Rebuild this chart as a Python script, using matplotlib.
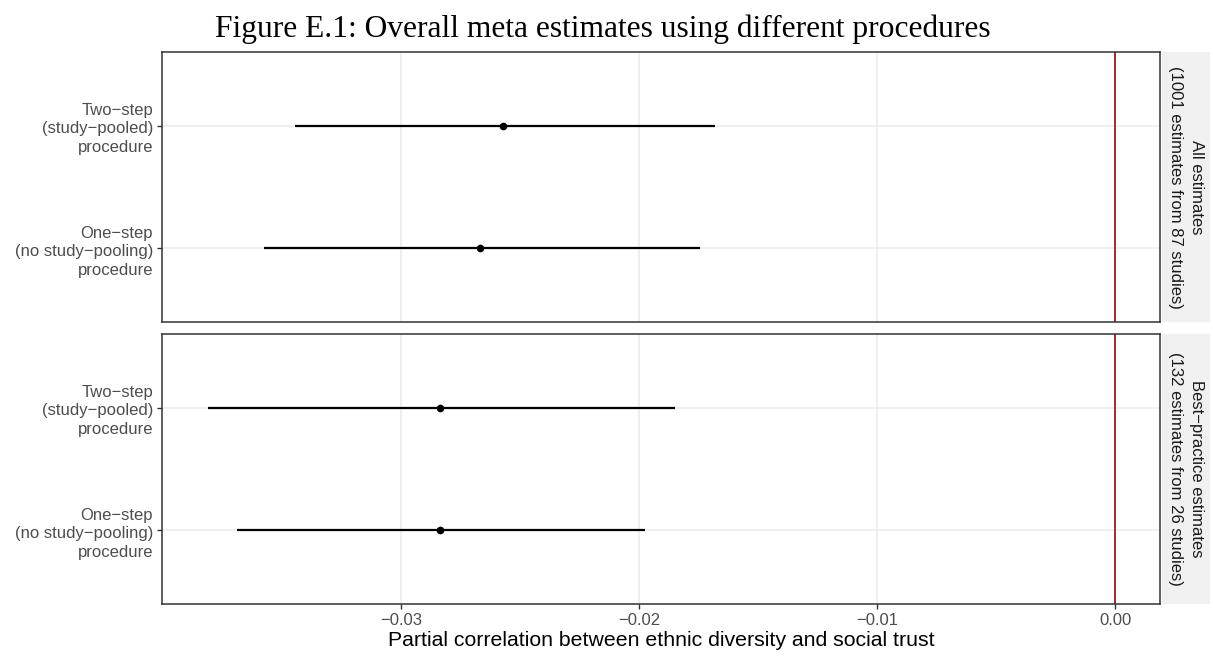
import matplotlib.pyplot as plt
import numpy as np

plt.rcParams['font.family'] = ['Liberation Sans', 'DejaVu Sans']

# Datos
procedimientos = ['One\u2212step\n(no study\u2212pooling)\nprocedure',
                  'Two\u2212step\n(study\u2212pooled)\nprocedure']
paneles = ['All estimates\n(1001 estimates from 87 studies)',
           'Best\u2212practice estimates\n(132 estimates from 26 studies)']
# orden: one-step, two-step
est_todos = [-0.02668, -0.02571]
lo_todos = [-0.03576, -0.03447]
hi_todos = [-0.01744, -0.01681]
est_mejores = [-0.02836, -0.02836]
lo_mejores = [-0.03689, -0.03811]
hi_mejores = [-0.01975, -0.01849]

xticks = [-0.03, -0.02, -0.01, 0.00]
xlabels = ['\u22120.03', '\u22120.02', '\u22120.01', '0.00']

W, H = 1213, 656
fig = plt.figure(figsize=(W / 100, H / 100), dpi=100)

def caja(x0, y0, x1, y1):
    return [x0 / W, 1 - y1 / H, (x1 - x0) / W, (y1 - y0) / H]

datos = [(est_todos, lo_todos, hi_todos), (est_mejores, lo_mejores, hi_mejores)]
filas = [(52, 322), (334, 604)]
gris = '#4D4D4D'

for i, ((est, lo, hi), (y0, y1)) in enumerate(zip(datos, filas)):
    ax = fig.add_axes(caja(162, y0, 1160, y1))
    pos = np.arange(1, len(est) + 1)
    ax.hlines(pos, lo, hi, color='black', linewidth=1.6, zorder=3)
    ax.plot(est, pos, 'o', color='black', markersize=4.5, zorder=4)
    ax.axvline(0, color='#9B1B1E', linewidth=1.3, zorder=2)
    ax.set_xlim(-0.04004, 0.00189)
    ax.set_ylim(0.4, 2.6)
    ax.set_yticks(pos)
    ax.set_yticklabels(procedimientos, fontsize=12, color=gris, ha='right',
                       multialignment='right', linespacing=1.3)
    ax.set_xticks(xticks)
    ax.grid(True, color='#EBEBEB', linewidth=1.1, zorder=0)
    ax.set_axisbelow(True)
    for s in ax.spines.values():
        s.set_color('#333333')
        s.set_linewidth(1.1)
    ax.tick_params(length=3.5, color='#333333', width=1.0, pad=3)
    if i == 0:
        ax.tick_params(axis='x', labelbottom=False, length=0)
    else:
        ax.set_xticklabels(xlabels, fontsize=12, color=gris)
        ax.set_xlabel('Partial correlation between ethnic diversity and social trust',
                      fontsize=15.3, color='black', labelpad=2)
    # tira del panel
    st = fig.add_axes(caja(1162, y0, 1210, y1))
    st.set_facecolor('#F0F0F0')
    st.set_xticks([])
    st.set_yticks([])
    for s in st.spines.values():
        s.set_visible(False)
    st.text(0.5, 0.5, paneles[i], rotation=-90, ha='center', va='center',
            fontsize=12, color='#1A1A1A', transform=st.transAxes,
            multialignment='center', linespacing=1.5)

fig.text(0.497, 1 - 29 / H, 'Figure E.1: Overall meta estimates using different procedures',
         ha='center', va='center', fontsize=22.7, family='Liberation Serif')

fig.savefig('out.png', dpi=100)
